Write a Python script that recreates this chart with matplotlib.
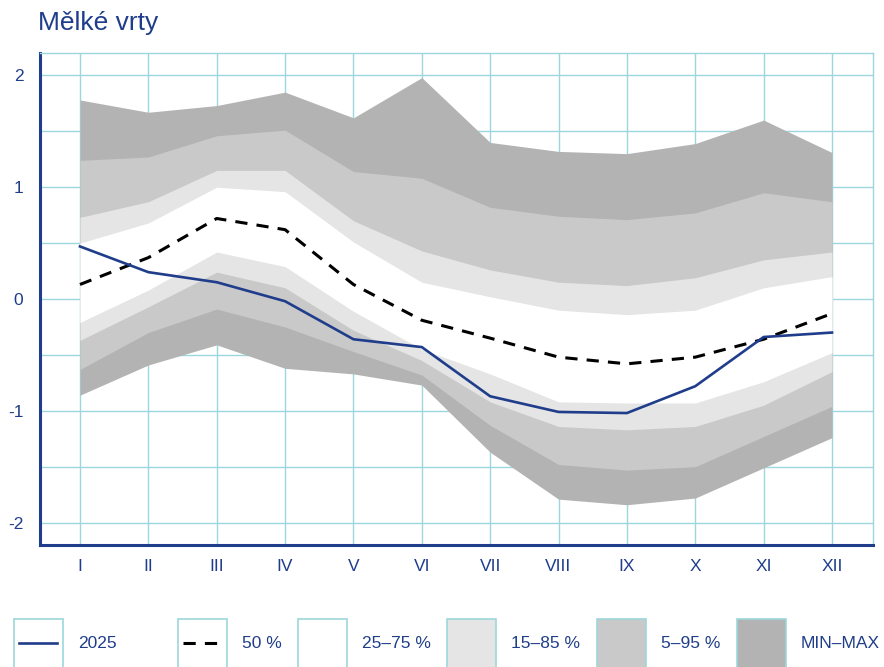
import matplotlib
matplotlib.use("Agg")
import matplotlib.pyplot as plt
from matplotlib.patches import Rectangle

plt.rcParams['font.family'] = ['Liberation Sans', 'DejaVu Sans']

# data
months = ['I', 'II', 'III', 'IV', 'V', 'VI', 'VII', 'VIII', 'IX', 'X', 'XI', 'XII']
y2025 = [0.47, 0.24, 0.15, -0.02, -0.36, -0.43, -0.87, -1.01, -1.02, -0.78, -0.34, -0.30]
p50 = [0.13, 0.37, 0.72, 0.62, 0.13, -0.19, -0.35, -0.52, -0.58, -0.52, -0.36, -0.13]
p75 = [0.50, 0.68, 1.00, 0.96, 0.51, 0.15, 0.02, -0.10, -0.14, -0.10, 0.10, 0.20]
p25 = [-0.21, 0.08, 0.42, 0.29, -0.11, -0.45, -0.67, -0.92, -0.93, -0.93, -0.74, -0.48]
p85 = [0.73, 0.87, 1.15, 1.15, 0.70, 0.43, 0.26, 0.15, 0.12, 0.19, 0.35, 0.42]
p15 = [-0.37, -0.07, 0.24, 0.10, -0.28, -0.55, -0.92, -1.14, -1.17, -1.14, -0.95, -0.65]
p95 = [1.24, 1.27, 1.46, 1.51, 1.14, 1.08, 0.82, 0.74, 0.71, 0.77, 0.95, 0.87]
p5 = [-0.63, -0.30, -0.09, -0.25, -0.47, -0.68, -1.13, -1.48, -1.53, -1.50, -1.23, -0.96]
pmax = [1.78, 1.67, 1.73, 1.85, 1.62, 1.98, 1.40, 1.32, 1.30, 1.39, 1.60, 1.31]
pmin = [-0.86, -0.59, -0.41, -0.62, -0.67, -0.77, -1.37, -1.79, -1.84, -1.78, -1.51, -1.24]

legend_labels = ['2025', '50 %', '25–75 %', '15–85 %', '5–95 %', 'MIN–MAX']

navy = '#1f3d8a'
grid_c = '#9dd6dc'
c_minmax = '#b3b3b3'
c_595 = '#c9c9c9'
c_1585 = '#e5e5e5'
c_2575 = '#ffffff'

fig = plt.figure(figsize=(8.84, 6.67), dpi=100)
W, H = 884, 667
ax = fig.add_axes([40 / W, 1 - 545 / H, (873 - 40) / W, (545 - 53) / H])

x = list(range(len(months)))
ax.fill_between(x, pmin, pmax, color=c_minmax, lw=0)
ax.fill_between(x, p5, p95, color=c_595, lw=0)
ax.fill_between(x, p15, p85, color=c_1585, lw=0)
ax.fill_between(x, p25, p75, color=c_2575, lw=0)
ax.plot(x, p50, color='black', lw=2.2, linestyle=(0, (4, 3)))
ax.plot(x, y2025, color=navy, lw=1.9)

ax.set_xlim(-0.585, 11.6)
ax.set_ylim(-2.2, 2.2)
ax.set_xticks(x)
ax.set_xticklabels(months)
ax.set_yticks([-2, -1, 0, 1, 2])
ax.set_yticklabels(['-2', '-1', '0', '1', '2'])
ax.set_yticks([-1.5, -0.5, 0.5, 1.5], minor=True)
ax.set_axisbelow(True)
ax.grid(True, which='both', color=grid_c, lw=1)
ax.tick_params(which='both', length=0, labelsize=12.5, labelcolor=navy)
ax.tick_params(axis='x', pad=10)
ax.tick_params(axis='y', pad=12)
for s in ['top', 'right']:
    ax.spines[s].set_color(grid_c)
    ax.spines[s].set_linewidth(1)
for s in ['left', 'bottom']:
    ax.spines[s].set_color(navy)
    ax.spines[s].set_linewidth(2.2)

fig.text(38 / W, 1 - 23 / H, 'Mělké vrty', fontsize=19, color=navy, va='center', ha='left')

# legend row drawn in pixel coordinates
lax = fig.add_axes([0, 0, 1, 1])
lax.set_xlim(0, W)
lax.set_ylim(H, 0)
lax.axis('off')
box_x = [14, 178, 298, 447, 597, 737]
fills = ['white', 'white', c_2575, c_1585, c_595, c_minmax]
for i, lab in enumerate(legend_labels):
    bx = box_x[i]
    lax.add_patch(Rectangle((bx, 619), 49, 52, facecolor=fills[i], edgecolor=grid_c, lw=1.2))
    lax.text(bx + 64, 643, lab, fontsize=12.5, color=navy, va='center', ha='left')
lax.plot([box_x[0] + 5, box_x[0] + 43], [643, 643], color=navy, lw=1.9)
lax.plot([box_x[1] + 5, box_x[1] + 45], [643, 643], color='black', lw=2.2, linestyle=(0, (4, 3)))

fig.savefig('out.png', dpi=100)
